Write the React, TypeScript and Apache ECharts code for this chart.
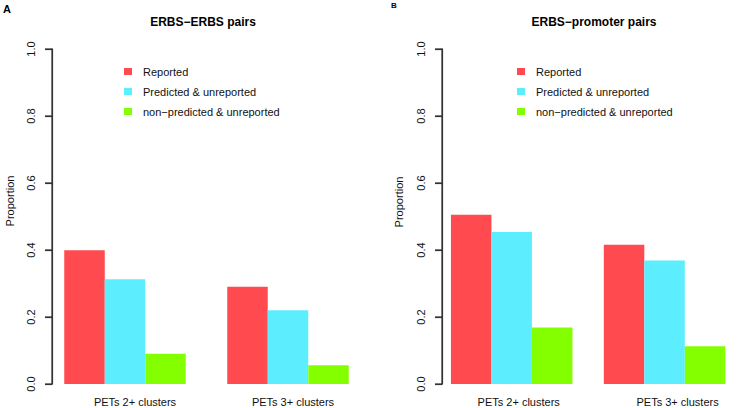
import React, { useEffect, useRef } from "react";
import * as echarts from "echarts";

const categories = ["PETs 2+ clusters", "PETs 3+ clusters"];
const seriesNames = ["Reported", "Predicted & unreported", "non\u2212predicted & unreported"];
const erbsReported = [0.399, 0.29];
const erbsPredicted = [0.313, 0.22];
const erbsNonPredicted = [0.09, 0.056];
const promReported = [0.505, 0.416];
const promPredicted = [0.454, 0.369];
const promNonPredicted = [0.169, 0.113];
const yTicks = [0, 0.2, 0.4, 0.6, 0.8, 1.0];
const panelTitles = ["ERBS\u2212ERBS pairs", "ERBS\u2212promoter pairs"];
const panelLetters = ["A", "B"];
const yAxisName = "Proportion";

const colors = ["#FF4A4F", "#5CEEFF", "#84FF00"];
const FONT = "Liberation Sans, Arial, Helvetica, sans-serif";

export default function App() {
  const ref = useRef<HTMLDivElement>(null);
  useEffect(() => {
    if (!ref.current) return;
    const chart = echarts.init(ref.current, undefined, { renderer: "svg" });

    const labelShifts = [
      [10, 5],
      [7, 13],
    ];

    const axisX = [52, 442];
    const grids = [
      { left: 43.5, width: 326, top: 49, height: 335 },
      { left: 435.25, width: 325, top: 49, height: 335 },
      { left: axisX[0], width: 300, top: 49, height: 335 },
      { left: axisX[1], width: 290, top: 49, height: 335 },
    ];

    const xAxes: any[] = [0, 1].map((gi) => {
      const rich: any = {};
      labelShifts[gi].forEach((s, i) => {
        rich["c" + i] = {
          fontFamily: FONT,
          fontSize: 11,
          color: "#111",
          padding: [0, 0, 0, s * 2],
        };
      });
      return {
        type: "category",
        gridIndex: gi,
        data: categories,
        axisLine: { show: false },
        axisTick: { show: false },
        axisLabel: {
          margin: 12,
          interval: 0,
          formatter: (v: string, i: number) => `{c${i}|${v}}`,
          rich,
        },
      };
    });
    [2, 3].forEach((gi) => {
      xAxes.push({
        type: "category",
        gridIndex: gi,
        data: categories,
        axisLine: { show: false },
        axisTick: { show: false },
        axisLabel: { show: false },
      });
    });

    const yAxes: any[] = [0, 1].map((gi) => ({
      type: "value",
      gridIndex: gi,
      min: 0,
      max: 1,
      interval: 0.2,
      show: false,
      splitLine: { show: false },
    }));
    [2, 3].forEach((gi) => {
      yAxes.push({
        type: "value",
        gridIndex: gi,
        min: 0,
        max: 1,
        interval: 0.2,
        splitLine: { show: false },
        axisLine: { show: true, lineStyle: { color: "#333", width: 1.2 } },
        axisTick: { show: true, length: 7, lineStyle: { color: "#333", width: 1.2 } },
        axisLabel: {
          rotate: 90,
          margin: 16,
          fontFamily: FONT,
          fontSize: 11,
          color: "#111",
          formatter: (v: number) => v.toFixed(1),
        },
      });
    });

    const dataSets = [
      [erbsReported, erbsPredicted, erbsNonPredicted],
      [promReported, promPredicted, promNonPredicted],
    ];
    const series: any[] = [];
    dataSets.forEach((ds, gi) => {
      ds.forEach((d, si) => {
        series.push({
          type: "bar",
          name: seriesNames[si],
          xAxisIndex: gi,
          yAxisIndex: gi,
          data: d,
          barWidth: 40.5,
          barGap: "0%",
          itemStyle: { color: colors[si] },
        });
      });
    });

    const legends = [124, 517].map((left) => ({
      orient: "vertical",
      left,
      top: 65,
      padding: 0,
      itemWidth: 8,
      itemHeight: 7,
      itemGap: 7,
      icon: "rect",
      selectedMode: false,
      data: seriesNames,
      textStyle: {
        fontFamily: FONT,
        fontSize: 11,
        color: "#111",
        lineHeight: 13,
        padding: [0, 0, 0, 6],
      },
    }));

    const graphics: any[] = [
      { type: "text", left: 3, top: 3, style: { text: panelLetters[0], font: `bold 11px ${FONT}`, fill: "#000" } },
      { type: "text", left: 391, top: 1, style: { text: panelLetters[1], font: `bold 8px ${FONT}`, fill: "#000" } },
      { type: "text", x: 203, y: 22, style: { text: panelTitles[0], font: `bold 12px ${FONT}`, fill: "#000", align: "center", verticalAlign: "middle" } },
      { type: "text", x: 594, y: 22, style: { text: panelTitles[1], font: `bold 12px ${FONT}`, fill: "#000", align: "center", verticalAlign: "middle" } },
      { type: "text", x: 10, y: 201, rotation: Math.PI / 2, style: { text: yAxisName, font: `11px ${FONT}`, fill: "#111", align: "center", verticalAlign: "middle" } },
      { type: "text", x: 399, y: 202, rotation: Math.PI / 2, style: { text: yAxisName, font: `11px ${FONT}`, fill: "#111", align: "center", verticalAlign: "middle" } },
    ];

    chart.setOption({
      animation: false,
      grid: grids,
      xAxis: xAxes,
      yAxis: yAxes,
      legend: legends,
      series,
      graphic: graphics,
    });

    // Axis lines and ticks as filled rects, positioned through the y axes' own scales
    const axisMarks: any[] = [];
    [2, 3].forEach((yi, k) => {
      const x = axisX[k];
      const yBottom = chart.convertToPixel({ yAxisIndex: yi } as any, yTicks[0]) as number;
      const yTop = chart.convertToPixel({ yAxisIndex: yi } as any, yTicks[yTicks.length - 1]) as number;
      axisMarks.push({
        type: "rect",
        silent: true,
        z: 100,
        shape: { x: x - 0.6, y: yTop - 0.6, width: 1.2, height: yBottom - yTop + 1.2 },
        style: { fill: "#333" },
      });
      yTicks.forEach((v) => {
        const y = chart.convertToPixel({ yAxisIndex: yi } as any, v) as number;
        axisMarks.push({
          type: "rect",
          silent: true,
          z: 100,
          shape: { x: x - 7, y: y - 0.6, width: 7, height: 1.2 },
          style: { fill: "#333" },
        });
      });
    });
    chart.setOption({ graphic: [...graphics, ...axisMarks] });

    return () => chart.dispose();
  }, []);
  return <div ref={ref} style={{ position: "fixed", left: 0, top: 0, width: 741, height: 408, background: "#fff" }} />;
}
